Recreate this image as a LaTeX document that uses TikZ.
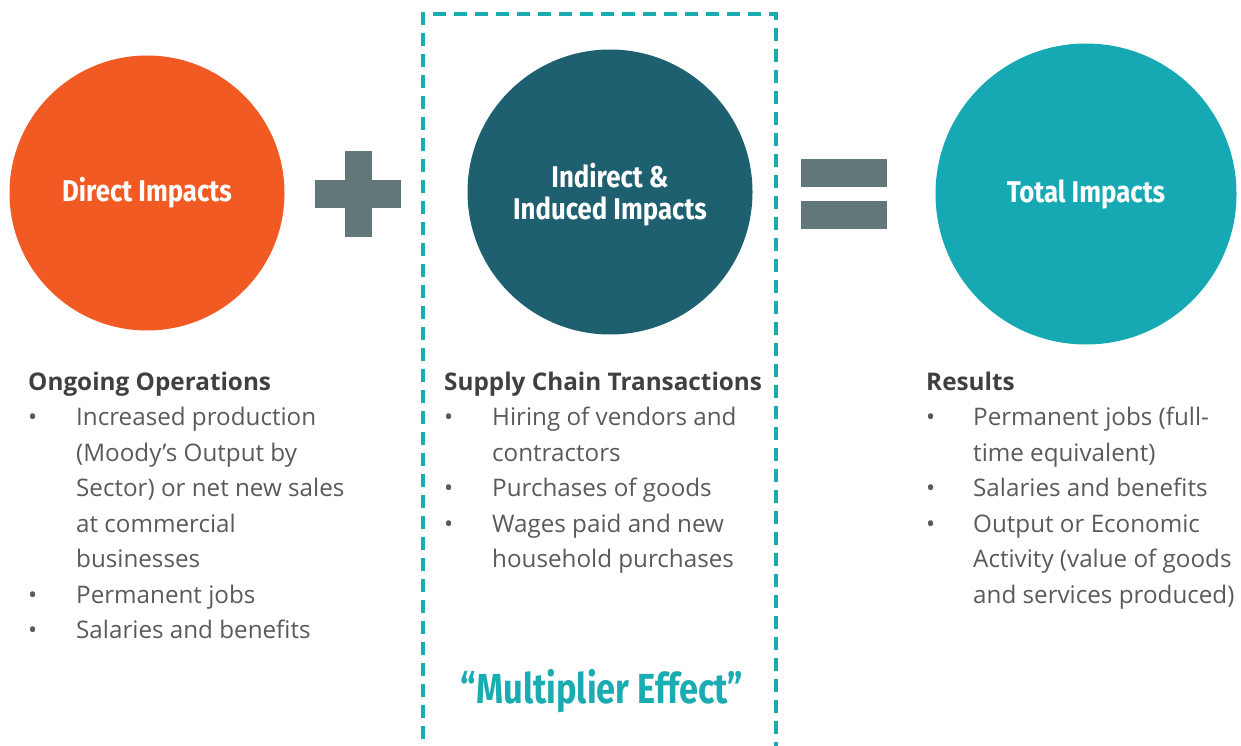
\documentclass[tikz,border=0pt]{standalone}
\usepackage{fontspec}
\setmainfont{Open Sans}
\newfontfamily\titlefont[Ligatures=TeX]{Fira Sans}
\usetikzlibrary{positioning}

\definecolor{directorange}{HTML}{F15A22}
\definecolor{indirectteal}{HTML}{1E5F70}
\definecolor{totalteal}{HTML}{17A9B3}
\definecolor{boxteal}{HTML}{1BACB2}
\definecolor{signgray}{HTML}{627779}
\definecolor{headgray}{HTML}{404040}
\definecolor{bodygray}{HTML}{5A5A5A}

% narrow bold titles
\newcommand{\narrow}[1]{\scalebox{0.86}[1]{#1}}

\begin{document}
\begin{tikzpicture}[x=1pt,y=-1pt,
    impact/.style={circle, inner sep=0pt, text=white, align=center,
      font=\titlefont\bfseries\fontsize{30}{32}\selectfont},
    sign/.style={fill=signgray, inner sep=0pt},
    column/.style={anchor=base west, inner sep=0pt, text=bodygray,
      font=\fontsize{24.2}{35.5}\selectfont}]
  \useasboundingbox (0,0) rectangle (1241,746);

  % the three circles
  \node[impact, fill=directorange, minimum size=275pt] (direct) at (147,193) {\narrow{Direct Impacts}};
  \node[impact, fill=indirectteal, minimum size=285pt] (indirect) at (610,192) {};
  \node[impact, align=center] (indirectlabel) at (610,195) {\narrow{Indirect \&}\\\narrow{Induced Impacts}};
  \node[impact, fill=totalteal, minimum size=301pt] (total) at (1086,194) {\narrow{Total Impacts}};

  % plus and equals
  \node[sign, minimum width=27pt, minimum height=86pt] (plusv) at (358.5,194) {};
  \node[sign, minimum width=86pt, minimum height=28pt] (plush) at (358,194) {};
  \node[sign, minimum width=86pt, minimum height=28pt] (eqtop) at (844,173) {};
  \node[sign, minimum width=86pt, minimum height=28pt] (eqbot) at (844,215) {};

  % multiplier box, open at the bottom
  \draw[boxteal, line width=4pt, dash pattern=on 13pt off 8pt]
    (423,760) -- (423,14) -- (776,14) -- (776,760);

  % text under each circle
  \node[column] (ongoing) at (28,390) {\begin{tabular}[t]{@{}p{48pt}@{}l@{}}
    \multicolumn{2}{@{}l@{}}{\color{headgray}\fontsize{24.3}{35.5}\selectfont\bfseries Ongoing Operations}\\
    \textbullet & Increased production\\
    & (Moody's Output by\\
    & Sector) or net new sales\\
    & at commercial\\
    & businesses\\
    \textbullet & Permanent jobs\\
    \textbullet & Salaries and benefits
  \end{tabular}};
  \node[column] (supply) at (444,390) {\begin{tabular}[t]{@{}p{48pt}@{}l@{}}
    \multicolumn{2}{@{}l@{}}{\color{headgray}\fontsize{24.3}{35.5}\selectfont\bfseries Supply Chain Transactions}\\
    \textbullet & Hiring of vendors and\\
    & contractors\\
    \textbullet & Purchases of goods\\
    \textbullet & Wages paid and new\\
    & household purchases
  \end{tabular}};
  \node[column] (results) at (926,390) {\begin{tabular}[t]{@{}p{47pt}@{}l@{}}
    \multicolumn{2}{@{}l@{}}{\color{headgray}\fontsize{24.3}{35.5}\selectfont\bfseries Results}\\
    \textbullet & Permanent jobs (full-\\
    & time equivalent)\\
    \textbullet & Salaries and benefits\\
    \textbullet & Output or Economic\\
    & Activity (value of goods\\
    & and services produced)
  \end{tabular}};

  \node[text=boxteal, inner sep=0pt, font=\titlefont\bfseries\fontsize{42}{44}\selectfont]
    (multiplier) at (602,691) {\scalebox{0.82}[1]{“Multiplier Effect”}};
\end{tikzpicture}
\end{document}
